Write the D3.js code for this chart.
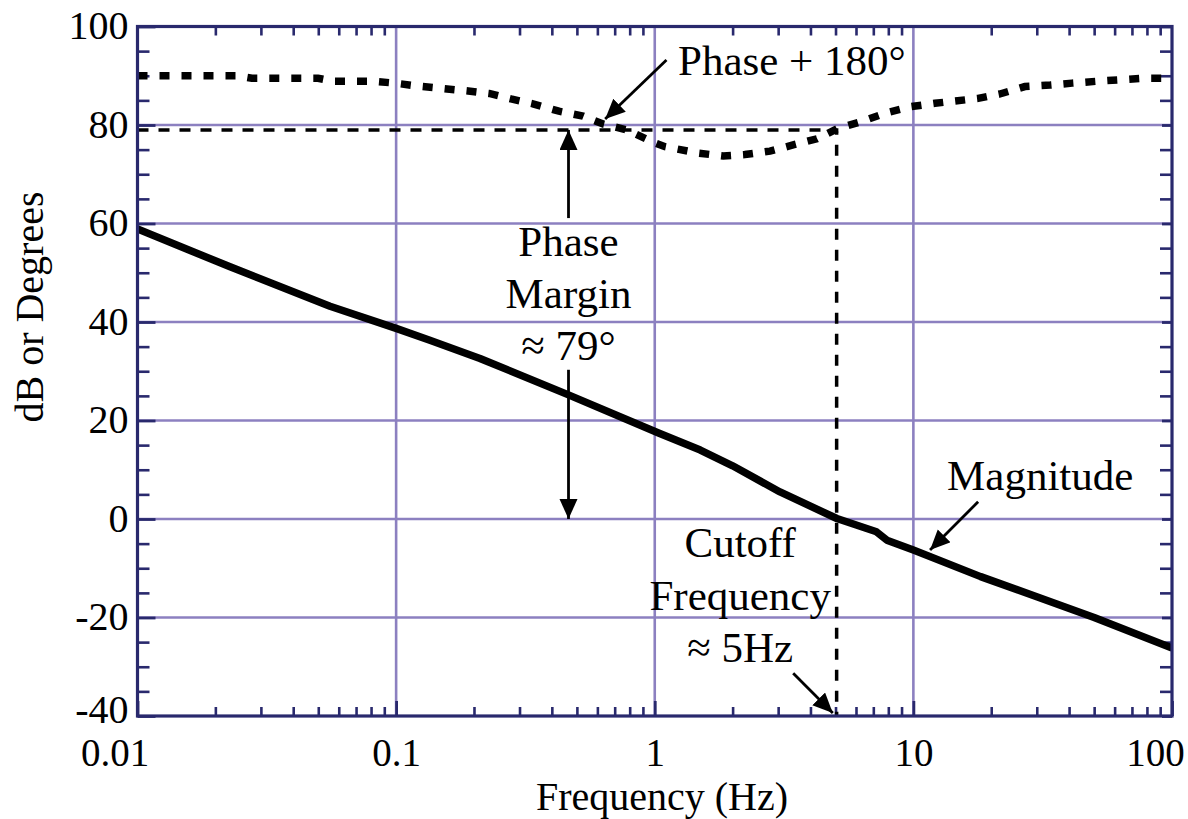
<!DOCTYPE html>
<html><head><meta charset="utf-8">
<script src="https://cdn.jsdelivr.net/npm/d3@7"></script>
<style>
body{margin:0;background:#fff;}
svg{display:block;}
text{font-family:"Liberation Serif","Times New Roman",serif;fill:#000;}
</style></head><body>
<svg id="c" width="1188" height="819"></svg>
<script>
// ---- data ----
const magFreq = [0.01, 0.0228, 0.0555, 0.1, 0.135, 0.211, 0.464, 1.04, 1.5, 2, 3.05, 5.06, 7.2, 7.9, 10, 18.2, 30, 50, 100];
const magDb   = [58.9, 51.2, 43.2, 38.7, 36.3, 32.6, 25.2, 17.4, 14.0, 10.8, 5.5, 0.1, -2.6, -4.3, -6.3, -11.7, -15.8, -20.0, -26.2];
const phaseFreq = [0.01, 0.0243, 0.0277, 0.0499, 0.057, 0.0807, 0.099, 0.1216, 0.152, 0.19, 0.229, 0.278, 0.338, 0.426, 0.528, 0.631, 0.781, 0.977, 1.096, 1.47, 1.84, 2.23, 2.79, 3.4, 4.24, 5.11, 6.39, 7.77, 9.71, 12.1, 17.8, 21.6, 27.0, 33.8, 41.1, 51.8, 78.7, 100];
const phaseDeg  = [90.0, 90.0, 89.5, 89.5, 88.9, 88.9, 88.5, 87.9, 87.4, 86.9, 86.4, 85.3, 84.3, 82.8, 81.8, 80.2, 79.0, 76.6, 75.6, 74.3, 73.7, 74.0, 74.7, 75.9, 77.2, 79.3, 80.8, 82.4, 83.7, 84.4, 85.4, 86.3, 87.8, 88.1, 88.5, 88.9, 89.5, 89.5];
const xTickValues = [0.01, 0.1, 1, 10, 100];
const xTickLabels = ["0.01", "0.1", "1", "10", "100"];
const yTickValues = [-40, -20, 0, 20, 40, 60, 80, 100];
const yTickLabels = ["-40", "-20", "0", "20", "40", "60", "80", "100"];
const phaseMargin = 79;
const cutoffFreq = 5.05;

// ---- layout ----
const L = 137.5, R = 1172, T = 26.5, B = 716;
const navy = "#29296d", grid = "#8c80c0";
const svg = d3.select("#c");
const x = d3.scaleLog().domain([0.01, 100]).range([L, R]);
const y = d3.scaleLinear().domain([-40, 100]).range([B, T]);

// grid lines
const g = svg.append("g");
g.selectAll(".gx").data(xTickValues.slice(1, -1)).join("line")
  .attr("x1", d => x(d)).attr("x2", d => x(d)).attr("y1", T).attr("y2", B)
  .attr("stroke", grid).attr("stroke-width", 2.6);
g.selectAll(".gy").data(yTickValues.slice(1, -1)).join("line")
  .attr("y1", d => y(d)).attr("y2", d => y(d)).attr("x1", L).attr("x2", R)
  .attr("stroke", grid).attr("stroke-width", 2.6);

// minor ticks
const minorX = [];
for (let e = -2; e < 2; e++) for (let m = 2; m <= 9; m++) minorX.push(m * Math.pow(10, e));
const minorY = d3.range(-40, 101, 5).filter(v => v % 20 !== 0);

function styleAxis(sel, w) {
  sel.select(".domain").remove();
  sel.selectAll("line").attr("stroke", navy).attr("stroke-width", w);
}
svg.append("g").attr("transform", `translate(0,${B})`)
  .call(d3.axisTop(x).tickValues(minorX).tickSize(9).tickFormat(""))
  .call(s => styleAxis(s, 2.6));
svg.append("g").attr("transform", `translate(0,${T})`)
  .call(d3.axisBottom(x).tickValues(minorX).tickSize(9).tickFormat(""))
  .call(s => styleAxis(s, 2.6));
svg.append("g").attr("transform", `translate(${L},0)`)
  .call(d3.axisRight(y).tickValues(minorY).tickSize(12).tickFormat(""))
  .call(s => styleAxis(s, 2.6));
svg.append("g").attr("transform", `translate(${R},0)`)
  .call(d3.axisLeft(y).tickValues(minorY).tickSize(12).tickFormat(""))
  .call(s => styleAxis(s, 2.6));
// major ticks
svg.append("g").attr("transform", `translate(0,${B})`)
  .call(d3.axisTop(x).tickValues(xTickValues).tickSize(15).tickFormat(""))
  .call(s => styleAxis(s, 2.8));
svg.append("g").attr("transform", `translate(${L},0)`)
  .call(d3.axisRight(y).tickValues(yTickValues).tickSize(18).tickFormat(""))
  .call(s => styleAxis(s, 2.8));
svg.append("g").attr("transform", `translate(${R},0)`)
  .call(d3.axisLeft(y).tickValues(yTickValues).tickSize(10).tickFormat(""))
  .call(s => styleAxis(s, 2.8));

// tick labels
const xa = svg.append("g").attr("transform", `translate(0,${B})`)
  .call(d3.axisBottom(x).tickValues(xTickValues).tickSize(0).tickPadding(0)
    .tickFormat((d, i) => xTickLabels[i]));
xa.select(".domain").remove();
xa.selectAll("text").attr("font-size", 39).attr("font-family", "Liberation Serif").attr("fill", "#000")
  .attr("y", 49.5).attr("dy", 0)
  .attr("dx", (d, i) => i === 0 ? -23 : (i === xTickLabels.length - 1 ? -17 : 0));
const ya = svg.append("g").attr("transform", `translate(${L},0)`)
  .call(d3.axisLeft(y).tickValues(yTickValues).tickSize(0).tickPadding(9)
    .tickFormat((d, i) => yTickLabels[i]));
ya.select(".domain").remove();
ya.selectAll("text").attr("font-size", 40).attr("font-family", "Liberation Serif").attr("fill", "#000")
  .attr("dy", (d, i) => i === 0 ? "6px" : "0.3em");

// axis titles
svg.append("text").attr("x", 662).attr("y", 810).attr("text-anchor", "middle")
  .attr("font-size", 40).text("Frequency (Hz)");
svg.append("text").attr("transform", "translate(43,307) rotate(-90)").attr("text-anchor", "middle")
  .attr("font-size", 40).text("dB or Degrees");

// clip
svg.append("clipPath").attr("id", "clip").append("rect")
  .attr("x", L).attr("y", T).attr("width", R - L).attr("height", B - T);
const plot = svg.append("g").attr("clip-path", "url(#clip)");

// phase margin / cutoff guides
plot.append("path")
  .attr("d", d3.line()([[x(0.01), y(phaseMargin)], [x(cutoffFreq), y(phaseMargin)], [x(cutoffFreq), y(-40)]]))
  .attr("fill", "none").attr("stroke", "#000").attr("stroke-width", 3.5).attr("stroke-dasharray", "11,10");

// magnitude
const line = d3.line().x(d => x(d[0])).y(d => y(d[1]));
plot.append("path").datum(magFreq.map((f, i) => [f, magDb[i]]))
  .attr("d", line).attr("fill", "none").attr("stroke", "#000").attr("stroke-width", 7.5)
  .attr("stroke-linejoin", "round");
// phase
plot.append("path").datum(phaseFreq.map((f, i) => [f, phaseDeg[i]]))
  .attr("d", line).attr("fill", "none").attr("stroke", "#000").attr("stroke-width", 7.5)
  .attr("stroke-dasharray", "10,12");

// frame
svg.append("rect").attr("x", L).attr("y", T).attr("width", R - L).attr("height", B - T)
  .attr("fill", "none").attr("stroke", navy).attr("stroke-width", 3.2);

// arrows
svg.append("defs").append("marker").attr("id", "ah").attr("markerUnits", "userSpaceOnUse")
  .attr("markerWidth", 22).attr("markerHeight", 20).attr("refX", 20).attr("refY", 9)
  .attr("orient", "auto").append("path").attr("d", "M0,0 L20,9 L0,18 Z").attr("fill", "#000");
const arrows = [
  [[1.11, 93.2], [0.643, 81.2]],
  [[0.464, 61.1], [0.464, 79]],
  [[0.464, 30.3], [0.464, 0]],
  [[3.43, -31.3], [4.88, -39.4]],
  [[17.8, 3.5], [11.6, -6.3]]
];
svg.selectAll(".arr").data(arrows).join("line")
  .attr("x1", d => x(d[0][0])).attr("y1", d => y(d[0][1]))
  .attr("x2", d => x(d[1][0])).attr("y2", d => y(d[1][1]))
  .attr("stroke", "#000").attr("stroke-width", 2.8).attr("marker-end", "url(#ah)");

// annotation texts
const notes = [
  {f: 1.23, v: 90.2, a: "start", t: "Phase + 180°"},
  {f: 0.464, v: 53.3, a: "middle", t: "Phase"},
  {f: 0.464, v: 42.9, a: "middle", t: "Margin"},
  {f: 0.464, v: 32.3, a: "middle", t: "≈ 79°"},
  {f: 2.14, v: -7.7, a: "middle", t: "Cutoff"},
  {f: 2.14, v: -18.5, a: "middle", t: "Frequency"},
  {f: 2.14, v: -29.0, a: "middle", t: "≈ 5Hz"},
  {f: 13.5, v: 5.9, a: "start", t: "Magnitude"}
];
svg.selectAll(".note").data(notes).join("text")
  .attr("x", d => x(d.f)).attr("y", d => y(d.v)).attr("text-anchor", d => d.a)
  .attr("font-size", 43).text(d => d.t);
</script>
</body></html>
